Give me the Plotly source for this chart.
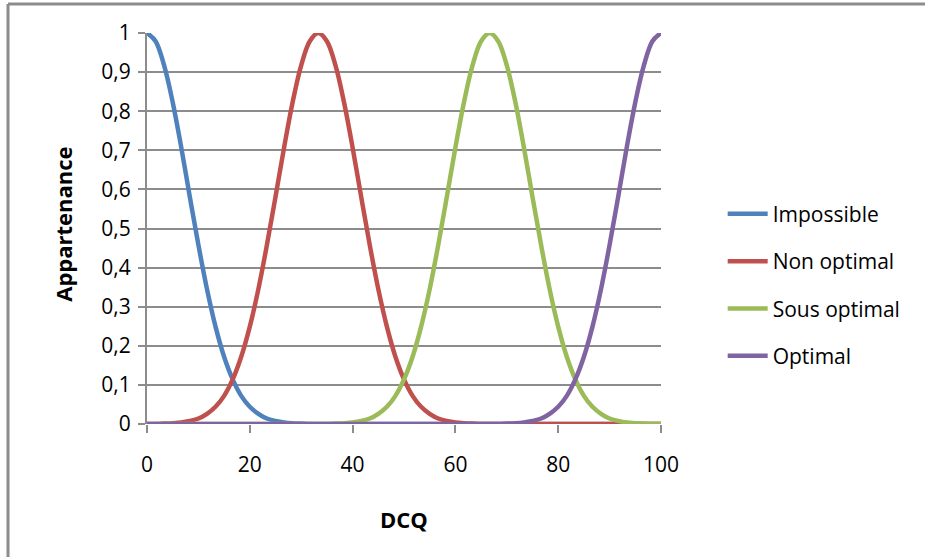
import plotly.graph_objects as go

# DCQ grid (x values)
dcq = [0, 1.67, 3.33, 5, 6.67, 8.33, 10, 11.67, 13.33, 15, 16.67, 18.33, 20, 21.67, 23.33, 25,
       26.67, 28.33, 30, 31.67, 33.33, 35, 36.67, 38.33, 40, 41.67, 43.33, 45, 46.67, 48.33, 50,
       51.67, 53.33, 55, 56.67, 58.33, 60, 61.67, 63.33, 65, 66.67, 68.33, 70, 71.67, 73.33, 75,
       76.67, 78.33, 80, 81.67, 83.33, 85, 86.67, 88.33, 90, 91.67, 93.33, 95, 96.67, 98.33, 100]

impossible = [1, 0.979, 0.917, 0.823, 0.707, 0.581, 0.458, 0.345, 0.249, 0.172, 0.114, 0.072,
              0.044, 0.026, 0.014, 0.008, 0.004, 0.002, 0.001, 0, 0,
              0, 0, 0, 0, 0, 0, 0, 0, 0, 0, 0, 0, 0, 0, 0, 0, 0, 0, 0, 0,
              0, 0, 0, 0, 0, 0, 0, 0, 0, 0, 0, 0, 0, 0, 0, 0, 0, 0, 0, 0]

non_optimal = [0, 0, 0.001, 0.002, 0.004, 0.008, 0.014, 0.026, 0.044, 0.072, 0.114, 0.172,
               0.249, 0.345, 0.458, 0.581, 0.707, 0.823, 0.917, 0.979, 1,
               0.979, 0.917, 0.823, 0.707, 0.581, 0.458, 0.345, 0.249, 0.172, 0.114, 0.072,
               0.044, 0.026, 0.014, 0.008, 0.004, 0.002, 0.001, 0, 0,
               0, 0, 0, 0, 0, 0, 0, 0, 0, 0, 0, 0, 0, 0, 0, 0, 0, 0, 0, 0]

sous_optimal = [0, 0, 0, 0, 0, 0, 0, 0, 0, 0, 0, 0, 0, 0, 0, 0, 0, 0, 0, 0, 0,
                0, 0.001, 0.002, 0.004, 0.008, 0.014, 0.026, 0.044, 0.072, 0.114, 0.172,
                0.249, 0.345, 0.458, 0.581, 0.707, 0.823, 0.917, 0.979, 1,
                0.979, 0.917, 0.823, 0.707, 0.581, 0.458, 0.345, 0.249, 0.172, 0.114, 0.072,
                0.044, 0.026, 0.014, 0.008, 0.004, 0.002, 0.001, 0, 0]

optimal = [0, 0, 0, 0, 0, 0, 0, 0, 0, 0, 0, 0, 0, 0, 0, 0, 0, 0, 0, 0, 0,
           0, 0, 0, 0, 0, 0, 0, 0, 0, 0, 0, 0, 0, 0, 0, 0, 0, 0, 0, 0,
           0, 0.001, 0.002, 0.004, 0.008, 0.014, 0.026, 0.044, 0.072, 0.114, 0.172,
           0.249, 0.345, 0.458, 0.581, 0.707, 0.823, 0.917, 0.979, 1]

series_names = ["Impossible", "Non optimal", "Sous optimal", "Optimal"]
series_values = [impossible, non_optimal, sous_optimal, optimal]
series_colors = ["#4F81BD", "#C0504D", "#9BBB59", "#8064A2"]

x_ticks = [0, 20, 40, 60, 80, 100]
y_ticks = [0, 0.1, 0.2, 0.3, 0.4, 0.5, 0.6, 0.7, 0.8, 0.9, 1]
y_ticktext = ["0", "0,1", "0,2", "0,3", "0,4", "0,5", "0,6", "0,7", "0,8", "0,9", "1"]

FONT = "Open Sans"
GRID = "#8C8C8C"

fig = go.Figure()
for i, (name, vals, col) in enumerate(zip(series_names, series_values, series_colors)):
    fig.add_trace(go.Scatter(
        x=dcq, y=vals, name=name, mode="lines",
        line=dict(color=col, width=4.5, shape="spline", smoothing=1.0),
        legendgroup=str(i), cliponaxis=False,
    ))

fig.update_layout(
    width=925, height=557,
    margin=dict(l=147, r=264, t=33, b=133),
    paper_bgcolor="white", plot_bgcolor="white",
    font=dict(family=FONT, size=21, color="black"),
    showlegend=True,
    legend=dict(x=1.12, y=0.355, xanchor="left", yanchor="middle",
                font=dict(family=FONT, size=21, color="black"),
                tracegroupgap=17, itemwidth=40, bgcolor="rgba(0,0,0,0)"),
    xaxis=dict(range=[0, 100], tickvals=x_ticks, ticks="outside", ticklen=8,
               tickcolor=GRID, tickwidth=2, showgrid=False, zeroline=False,
               showline=False, ticklabelstandoff=14, fixedrange=True,
               tickfont=dict(family=FONT, size=21)),
    yaxis=dict(range=[0, 1], tickvals=y_ticks, ticktext=y_ticktext, ticks="outside",
               ticklen=7, tickcolor=GRID, tickwidth=2, showgrid=True, gridcolor=GRID,
               gridwidth=2, zeroline=False, showline=True, linecolor=GRID, linewidth=2,
               ticklabelstandoff=3, fixedrange=True,
               tickfont=dict(family=FONT, size=21)),
    annotations=[
        dict(text="<b>Appartenance</b>", x=-0.165, y=0.51, xref="paper", yref="paper",
             xanchor="center", textangle=-90, showarrow=False, font=dict(family=FONT, size=22)),
        dict(text="<b>DCQ</b>", x=0.5, y=-0.242, xref="paper", yref="paper",
             yanchor="middle", showarrow=False, font=dict(family=FONT, size=22)),
    ],
    shapes=[
        dict(type="line", xref="paper", yref="paper", x0=-0.2704, x1=1.52, y0=1.0742, y1=1.0742,
             line=dict(color="#8C8C8C", width=3)),
        dict(type="line", xref="paper", yref="paper", x0=-0.2704, x1=-0.2704, y0=1.0742, y1=-0.35,
             line=dict(color="#8C8C8C", width=3)),
    ],
)

fig.write_html("out.html")
